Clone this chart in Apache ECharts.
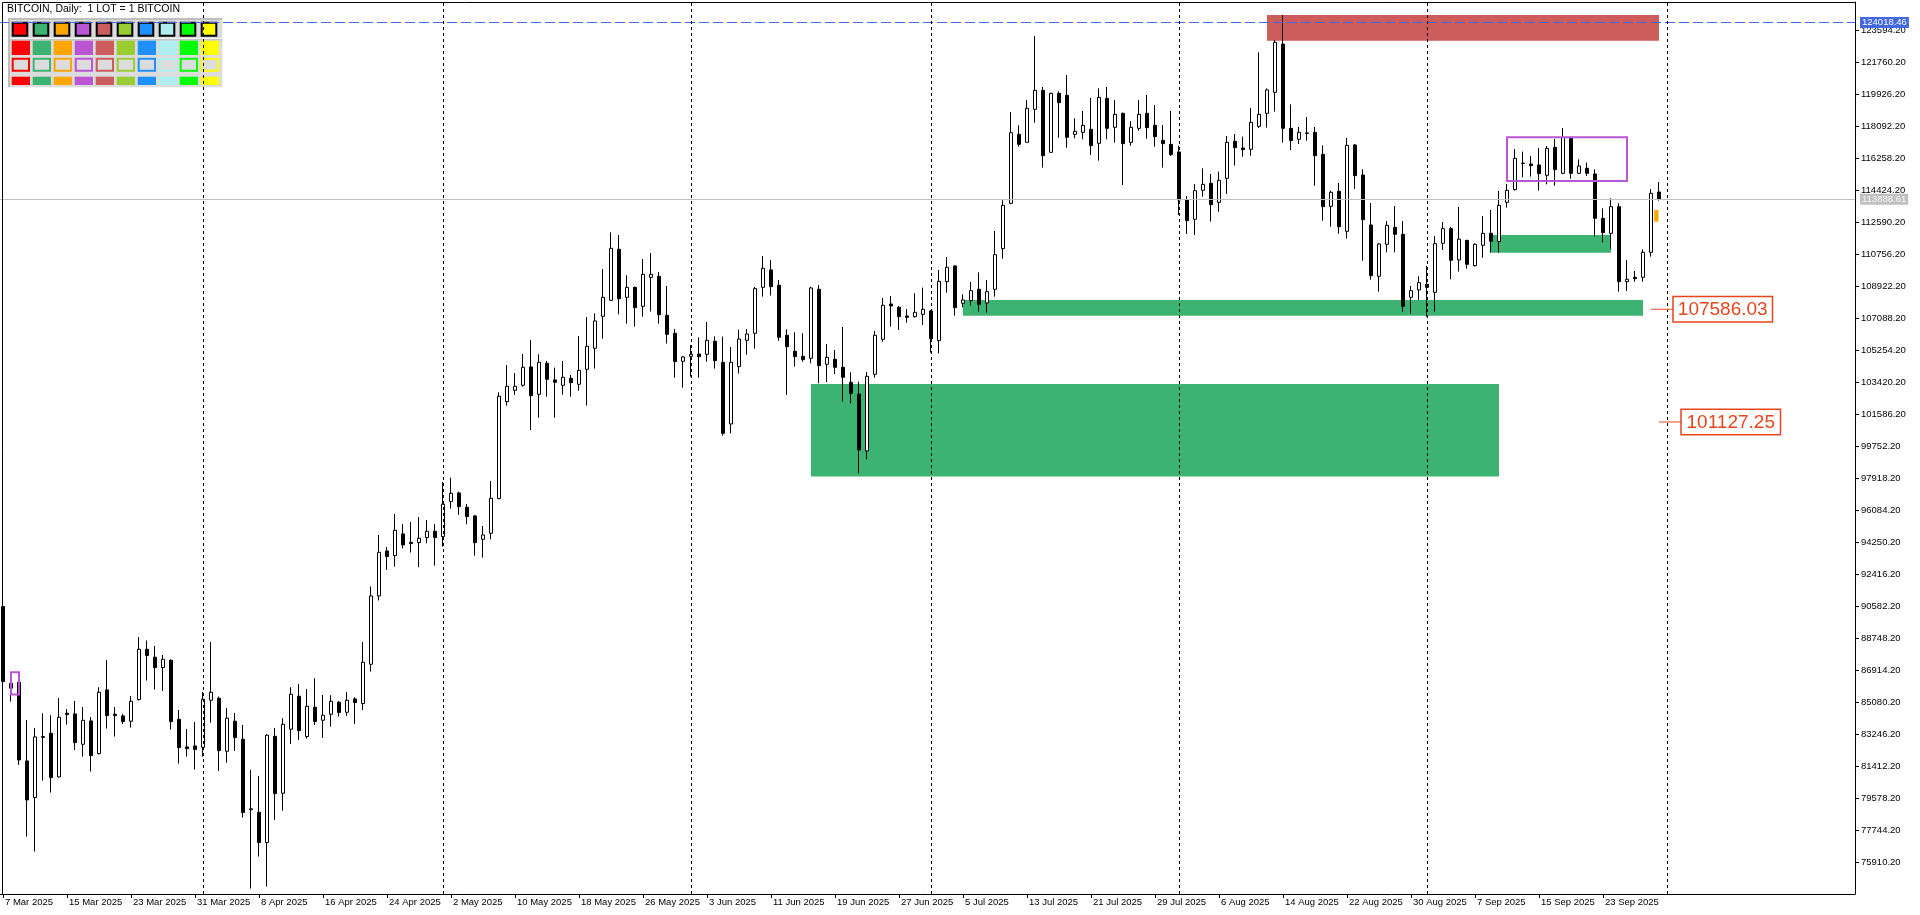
<!DOCTYPE html>
<html><head><meta charset="utf-8">
<script src="https://cdn.jsdelivr.net/npm/echarts@6/dist/echarts.min.js"></script>
<style>html,body{margin:0;padding:0;background:#fff;}#c{width:1920px;height:915px;}</style>
</head><body><div id="c"></div>
<script>
// ---------- data ----------
const firstDay = [2025, 2, 7];      // 7 Mar 2025 (UTC y, m0, d)
const slotCount = 232;              // daily slots on the time axis (incl. empty right shift)
const monthNames = ['Jan','Feb','Mar','Apr','May','Jun','Jul','Aug','Sep','Oct','Nov','Dec'];
const titleText = 'BITCOIN, Daily:  1 LOT = 1 BITCOIN';

// [open, high, low, close]
const ohlcMar = [
[90546,90700,85900,86249],[85867,86249,85103,86153],[86211,86400,81474,81760],[81703,84052,77367,79468],
[79602,83594,76508,83078],[83050,84434,80576,83100],[83289,84320,79888,80748],[80786,85313,80748,84205],
[84434,84682,83785,84358],[84396,85141,82334,82754],[82658,84797,81951,84033],[83995,84224,81092,82009],
[82123,85924,82066,85638],[85771,87490,83556,84301],[84380,84797,83097,84300],[84282,84396,83823,83957],
[83976,85428,83613,85122],[85218,88808,85160,88102],[88102,88598,86306,87739],[87643,88293,85791,87051],
[87051,87777,85714,87529],[87471,87520,83498,83957],[84090,84625,81550,82467],[82505,83537,81951,82410],
[82563,83938,81207,82353]
];
const ohlcApr = [
[82486,85657,81951,85237],[85179,88522,83899,85638],[85294,85390,81130,82295],[82257,84740,81607,84148],
[83976,84453,82276,83040],[82945,83766,78456,78742],[78900,81188,74388,78960],[78762,80844,76221,77024],
[77024,83231,74503,83174],[83116,83594,78322,79831],[79850,84148,78857,83804],[83518,85924,82677,85523],
[85409,86115,82906,83441],[83097,85829,82983,84835],[84778,86440,83766,83957],[84033,85485,83021,84320],
[84377,85466,83670,85122],[85065,85141,84243,84473],[84492,85657,84282,85180],[85256,85351,83823,85046],
[84988,88522,84625,87357],[87242,91700,86822,91158],[91158,94653,90900,93660],[93736,93965,92648,93411],
[93469,95856,92839,94920],[94710,95283,93889,94080],[94232,95398,93641,94156],[94214,95684,92800,94462],
[94500,95513,94175,94863],[94863,95283,92896,94500]
];
const ohlcMay = [
[94557,97690,93984,96410],[96563,97938,96162,97040],[97060,97136,95799,96277],[96238,96429,95264,95703],
[95742,95799,93469,94214],[94404,95169,93354,94653],[94748,97747,94404,96754],[96735,102828,96697,102599],
[102293,104395,102064,103172],[102942,103936,102675,103172],[103229,105024,103152,104261],[104280,105826,100670,102637],
[102713,105005,101376,104547],[104490,104623,102580,103573],[103535,104241,101376,103401],[103229,104623,102694,103687],
[103630,103821,102580,103382],[103286,106056,102923,104088],[104146,107144,102064,105464],[105349,107354,104184,106916],
[107182,109895,105903,108271],[108099,111996,108061,111079],[111022,111843,107297,108195],[108271,109532,106762,108844],
[108844,108882,106590,107679],[107756,110468,107163,109589],[109417,110812,107450,109589],[109474,109723,106762,107278],
[107240,108921,105616,106151],[106208,106457,103668,104585],[104604,104910,103095,104853]
];
const ohlcJun = [
[104891,105540,103725,105005],[105024,105979,103668,104871],[105005,106858,104585,105807],[105750,106036,104184,104642],
[104547,106017,100345,100478],[101013,105425,100478,104547],[104300,106420,103900,105880],[105807,106456,104986,106170],
[106208,108863,105330,108768],[108844,110640,108309,109933],[109838,110410,108367,108882],[108959,109265,105788,105979],
[106094,106437,102675,105444],[105177,106265,104298,104871],[104890,106208,104585,104700],[104776,108882,104489,108806],
[108730,108978,103343,104355],[104432,105597,103420,104833],[104719,105253,103878,104260],[104260,106571,102293,103687],
[103401,103974,102198,102770],[102732,103439,98186,99523],[99466,103993,98988,103744],[103859,106342,103668,106094],
[105865,108233,105731,107813],[107889,108348,106590,107774],[107698,107774,106399,107163],[107201,107603,106819,107125],
[107163,108500,107106,107411],[107297,108825,106686,107584]
];
const ohlcJul = [
[107488,107545,105100,105903],[105788,109838,105062,109188],[109169,110582,108539,109991],[110067,110100,107221,107679],
[107928,108443,107698,108118],[108080,109150,107794,108653],[108730,109704,107450,107870],[107947,109265,107392,108596],
[108730,112072,108309,110716],[111060,113831,110487,113544],[113659,118892,113601,117707],[117611,118127,116904,117038],
[117153,119578,117153,119101],[119044,123246,118280,120132],[120132,120323,115701,116388],[116579,120000,116560,119960],
[119960,120075,117420,119426],[119846,121011,116846,117439],[117611,118528,117382,117783],[117726,118949,117325,118127],
[117898,119693,116427,116962],[117095,120247,116102,119731],[119674,120323,117325,117955],[118012,119578,117134,118757],
[118815,118853,114708,117077],[117153,118375,116962,118012],[117955,119578,117821,118757],[118815,119865,117363,117993],
[118127,119292,116904,117478],[117267,118146,115701,117077],[117038,118948,116370,116446]
];
const ohlcAug = [
[116599,116962,112989,113849],[113849,114078,111900,112664],[112741,114766,111843,114384],[114403,115663,114040,114747],
[114804,115339,112607,113581],[113715,115472,113180,114976],[115090,117516,114192,117153],[117210,117630,115816,116847],
[116828,117478,116331,116732],[116752,119120,116389,118299],[118070,122310,117974,118757],[118815,120247,117993,120152],
[120018,123017,118910,122883],[122787,124450,117134,117955],[117955,119330,116713,117248],[117325,118031,117057,117726],
[117660,118604,117248,117690],[117726,118031,114670,116389],[116465,116981,112664,113467],[113486,114384,112320,114288],
[114345,114823,111919,112320],[112053,117401,111633,116981],[117000,117057,114479,115243],[115281,115606,110372,112721],
[112416,113677,109284,109513],[109475,111385,108596,111328],[111308,112645,110850,112397],[112282,113505,110850,111881],
[111881,112645,107450,107755],[108271,108921,107336,108653],[108691,109475,108118,109112]
];
const ohlcSep = [
[109016,110067,107163,108844],[108557,111786,107450,111347],[111366,112588,110983,112206],[112206,112302,109303,110392],
[110411,113447,109742,111605],[111537,111556,109914,110162],[110086,111365,110028,111308],[111251,112932,110544,111938],
[111938,113275,110830,111480],[111461,114364,110830,113543],[113715,114765,113409,114402],[114441,116771,114383,116236],
[115940,116618,115147,115960],[115911,116370,115185,115816],[115854,116828,114383,115357],[115262,116943,114746,116809],
[116866,117344,114670,115587],[115377,117974,115319,117439],[117382,117477,115071,115377],[115377,116179,115338,115797],
[115663,115988,115224,115377],[115338,115606,111747,112798],[112798,113371,111423,111977],[111938,113944,111022,113466],
[113466,113657,108596,109169],[109169,110410,108634,109303],[109417,109780,109169,109341],[109417,111022,109169,110850],
[110850,114479,110601,114230],[114307,114880,113810,113888.61]
];

// zones: [startBar, endBar, topPrice, bottomPrice]
const redZones = [[158, 207, 124450, 122978]];
const greenZones = [[101, 187, 103305, 97995], [120, 205, 108118, 107221], [186, 201, 111843, 110831]];
const purpleBoxes = [[188, 203, 117440, 114940], [1, 2, 86784, 85504]];
const orangeMarks = [[206.4, 206.93, 113275, 112605]];
// price labels: [anchorBar, price]
const priceLabels = [[206, 107586.03], [207, 101127.25]];
const highLine = 124018.46;
const lastPrice = 113888.61;
const monthStarts = ['1 Apr 2025','1 May 2025','1 Jun 2025','1 Jul 2025','1 Aug 2025','1 Sep 2025','1 Oct 2025'];

// y axis ticks
const yMin = 74076.2, yMax = 125194, yStep = 1834;
const xLabelEvery = 8;

const paletteColors = ['#FF0000','#3CB371','#FFA500','#BA55D3','#CD5C5C','#9ACD32','#1E90FF','#AFEEEE','#00FF00','#FFFF00'];

// ---------- build ----------
const categories = [];
for (let k = 0; k < slotCount; k++) {
  const d = new Date(Date.UTC(firstDay[0], firstDay[1], firstDay[2] + k));
  categories.push(d.getUTCDate() + ' ' + monthNames[d.getUTCMonth()] + ' ' + d.getUTCFullYear());
}
const bars = [].concat(ohlcMar, ohlcApr, ohlcMay, ohlcJun, ohlcJul, ohlcAug, ohlcSep);
const candleData = bars.map(b => [b[0], b[3], b[2], b[1]]);
const lastBar = bars.length - 1;

const FONT = '"Liberation Sans", Arial, sans-serif';
const showX = (i) => i % xLabelEvery === 0 && i <= lastBar;

function xAt(api, idx) {
  const i0 = Math.floor(idx);
  const p0 = api.coord([i0, yMin])[0];
  const p1 = api.coord([i0 + 1, yMin])[0];
  return p0 + (p1 - p0) * (idx - i0);
}
function zoneSeries(data, style, z) {
  return {
    type: 'custom', z: z, silent: true, data: data,
    encode: { x: [0, 1], y: [2, 3] },
    renderItem: function (params, api) {
      const x0 = xAt(api, api.value(0)), x1 = xAt(api, api.value(1));
      const y0 = api.coord([0, api.value(2)])[1], y1 = api.coord([0, api.value(3)])[1];
      return { type: 'rect', shape: { x: x0, y: y0, width: x1 - x0, height: y1 - y0 }, style: style };
    }
  };
}

const labelColor = '#E5461E';
const priceLabelSeries = {
  type: 'custom', z: 6, silent: true, data: priceLabels,
  encode: { x: 0, y: 1 },
  renderItem: function (params, api) {
    const p = api.coord([api.value(0), api.value(1)]);
    const x = p[0], y = p[1];
    const lineLen = 22, w = 99.5, h = 25.5;
    return {
      type: 'group', children: [
        { type: 'line', shape: { x1: x, y1: y, x2: x + lineLen, y2: y }, style: { stroke: labelColor, lineWidth: 1 } },
        { type: 'rect', shape: { x: x + lineLen, y: y - h / 2, width: w, height: h }, style: { fill: '#fff', stroke: labelColor, lineWidth: 1.5 } },
        { type: 'text', x: x + lineLen + w / 2, y: y + 1, style: { text: api.value(1).toFixed(2), fill: labelColor, font: '19px ' + FONT, align: 'center', verticalAlign: 'middle' } }
      ]
    };
  }
};

// legend / palette panel (decoration)
const panel = [];
panel.push({ type: 'rect', shape: { x: 8, y: 18, width: 215, height: 70 }, style: { fill: '#DCDCDC' } });
panel.push({ type: 'rect', shape: { x: 8, y: 18, width: 215, height: 2 }, style: { fill: '#BEBEBE' } });
panel.push({ type: 'rect', shape: { x: 8, y: 18, width: 2, height: 70 }, style: { fill: '#BEBEBE' } });
panel.push({ type: 'rect', shape: { x: 10, y: 38, width: 213, height: 1 }, style: { fill: '#F4F4F4' } });
panel.push({ type: 'rect', shape: { x: 10, y: 39, width: 213, height: 1.5 }, style: { fill: '#C4C4C4' } });
panel.push({ type: 'rect', shape: { x: 222, y: 18, width: 1, height: 70 }, style: { fill: '#F4F4F4' } });
panel.push({ type: 'rect', shape: { x: 8, y: 87, width: 215, height: 1 }, style: { fill: '#F4F4F4' } });
paletteColors.forEach((c, k) => {
  const x = 11.7 + 21 * k;
  panel.push({ type: 'rect', shape: { x: x + 1, y: 22.7, width: 14.6, height: 13 }, style: { fill: c, stroke: '#000', lineWidth: 2 } });
  panel.push({ type: 'rect', shape: { x: x, y: 40.7, width: 18.3, height: 14.3 }, style: { fill: c } });
  panel.push({ type: 'rect', shape: { x: x + 1, y: 58.7, width: 16.3, height: 12 }, style: { fill: '#DCDCDC', stroke: c, lineWidth: 2 } });
  panel.push({ type: 'rect', shape: { x: x, y: 76.7, width: 18.3, height: 8.3 }, style: { fill: c } });
});

const chart = echarts.init(document.getElementById('c'), null, { renderer: 'canvas' });
chart.setOption({
  animation: false,
  backgroundColor: '#ffffff',
  grid: { left: -1, right: 65, top: 2, bottom: 21, containLabel: false, outerBoundsMode: 'none' },
  xAxis: {
    type: 'category', data: categories, boundaryGap: true,
    axisLine: { show: true, lineStyle: { color: '#000', width: 1 } },
    axisTick: { show: true, alignWithLabel: true, length: 4, interval: showX, lineStyle: { color: '#000' } },
    axisLabel: { interval: showX, align: 'left', margin: 3, padding: [0, 0, 0, 2], color: '#000', fontSize: 9.5, fontFamily: FONT },
    splitLine: { show: false }
  },
  yAxis: {
    type: 'value', position: 'right', min: yMin, max: yMax, interval: yStep, scale: true,
    axisLine: { show: true, lineStyle: { color: '#000', width: 1 } },
    axisTick: { show: true, length: 4, lineStyle: { color: '#000' } },
    axisLabel: {
      margin: 6, color: '#000', fontSize: 9.5, fontFamily: FONT, showMinLabel: false, showMaxLabel: false,
      formatter: v => (Math.round(v - 0.2) + 0.2).toFixed(2)
    },
    splitLine: { show: false }
  },
  graphic: [
    { type: 'polyline', z: 100, silent: true, shape: { points: [[2.5, 894], [2.5, 2.5], [1855, 2.5]] }, style: { stroke: '#000', lineWidth: 1, fill: null } },
    { type: 'text', z: 100, silent: true, x: 7, y: 9.5, style: { text: titleText, fill: '#000', font: '10.5px ' + FONT, verticalAlign: 'middle' } },
    { type: 'group', z: 100, silent: true, children: panel }
  ],
  series: [
    zoneSeries(redZones, { fill: '#CD5C5C' }, 1),
    zoneSeries(greenZones, { fill: '#3CB371' }, 1),
    {
      type: 'candlestick', z: 3, data: candleData, barWidth: 4, silent: true,
      itemStyle: { color: '#ffffff', color0: '#000000', borderColor: '#000000', borderColor0: '#000000', borderWidth: 1 },
      markLine: {
        silent: true, symbol: ['none', 'none'], animation: false,
        data: [
          { yAxis: highLine, lineStyle: { color: '#4169E1', width: 1, type: [10, 4] },
            label: { show: true, position: 'end', distance: 5, formatter: highLine.toFixed(2), color: '#fff', backgroundColor: '#4169E1', padding: [1, 2, 0, 2], fontSize: 9.5, fontFamily: FONT } },
          { yAxis: lastPrice, lineStyle: { color: '#C0C0C0', width: 1, type: 'solid' },
            label: { show: true, position: 'end', distance: 5, formatter: lastPrice.toFixed(2), color: '#F8F8F8', backgroundColor: '#C0C0C0', padding: [1, 2, 0, 2], fontSize: 9.5, fontFamily: FONT } }
        ].concat(monthStarts.map(m => ({ xAxis: m, lineStyle: { color: '#000', width: 1, type: [3, 3] }, label: { show: false } })))
      }
    },
    zoneSeries(purpleBoxes, { fill: null, stroke: '#BA55D3', lineWidth: 2 }, 4),
    zoneSeries(orangeMarks, { fill: '#FFA500' }, 4),
    priceLabelSeries
  ]
});
</script></body></html>
